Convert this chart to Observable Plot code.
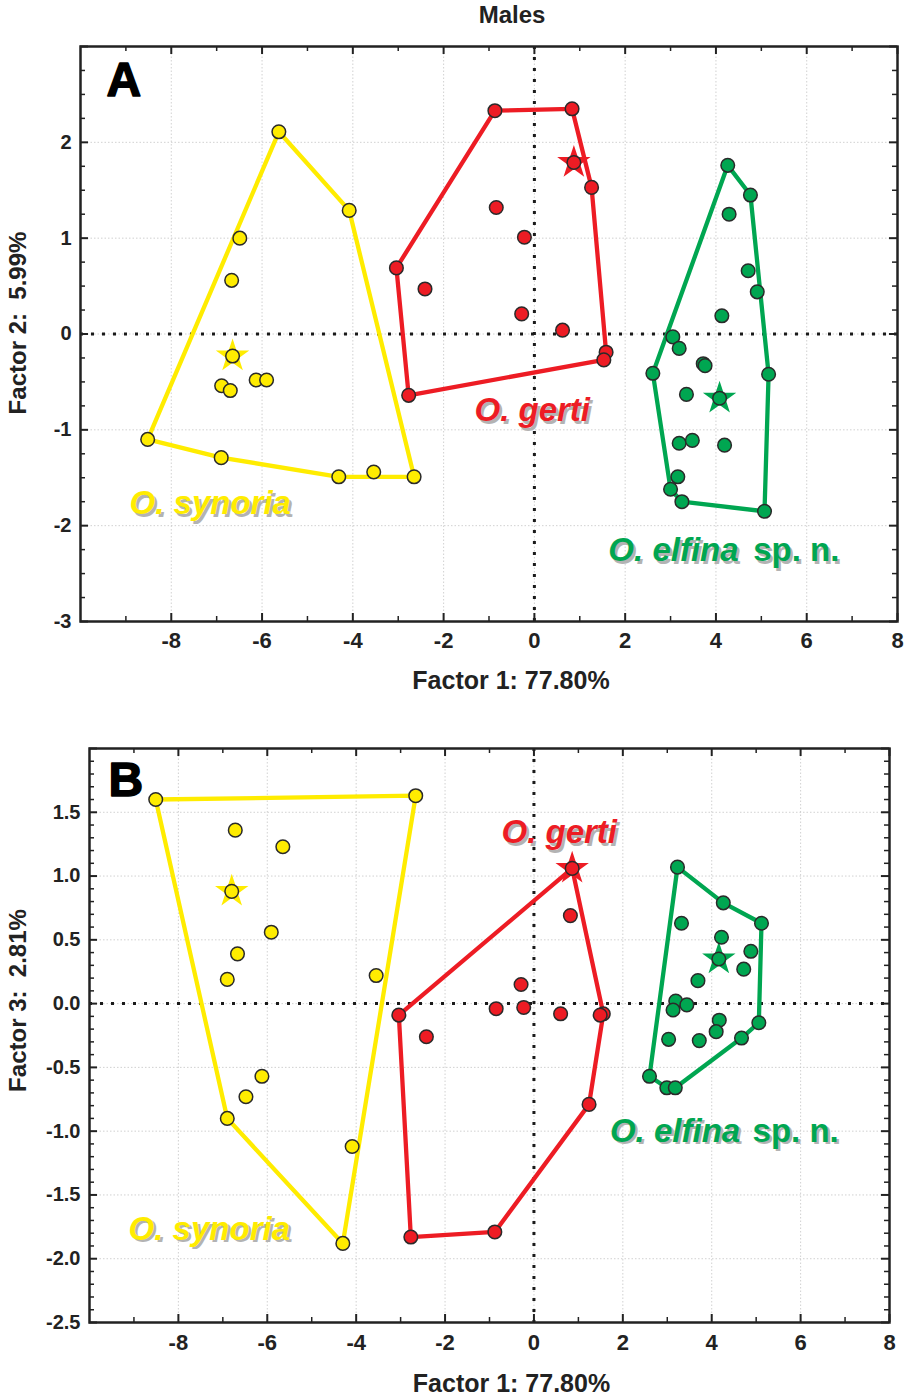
<!DOCTYPE html>
<html><head><meta charset="utf-8">
<script src="https://cdn.jsdelivr.net/npm/d3@7"></script>
<script src="https://cdn.jsdelivr.net/npm/@observablehq/plot@0.6"></script>
<style>
body{margin:0;background:#fff;}
#title{position:relative;width:905px;height:30px;}
#title span{position:absolute;left:512px;top:1px;transform:translateX(-50%);font:bold 24px 'Liberation Sans',Arial,sans-serif;color:#222;}
svg{display:block}
</style></head><body>
<div id="title"><span>Males</span></div>
<div id="a"></div><div id="b"></div>
<script>
// ---------- Data: Panel A (Factor 1 vs Factor 2) ----------
const synoriaA_x = [-5.63,-4.08,-6.49,-6.67,-6.65,-6.89,-6.70,-6.13,-5.90,-8.52,-6.90,-4.31,-3.54,-2.65];
const synoriaA_y = [ 2.11, 1.29, 1.00, 0.56,-0.23,-0.54,-0.59,-0.48,-0.48,-1.10,-1.29,-1.49,-1.44,-1.49];
const synoriaA_hull = [9,0,1,13,11,10,9];
const synoriaA_star = 4;

const gertiA_x = [-0.87,0.83,0.87,1.26,-0.84,-0.22,-3.04,-2.41,-0.28,0.62,1.58,1.53,-2.77];
const gertiA_y = [ 2.33,2.35,1.79,1.53, 1.32, 1.01, 0.69, 0.47, 0.21,0.04,-0.19,-0.27,-0.64];
const gertiA_hull = [6,0,1,3,10,11,12,6];
const gertiA_star = 2;

const elfinaA_x = [4.26,4.76,4.29,4.71,4.91,4.13,3.05,3.19,3.72,3.76,2.61,5.16,3.35,4.08,3.19,3.48,4.19,3.16,3.00,3.25,5.07];
const elfinaA_y = [1.76,1.45,1.25,0.66,0.44,0.19,-0.03,-0.15,-0.31,-0.33,-0.41,-0.42,-0.63,-0.67,-1.14,-1.11,-1.16,-1.49,-1.62,-1.75,-1.85];
const elfinaA_hull = [10,0,1,11,20,19,18,10];
const elfinaA_star = 13;

// ---------- Data: Panel B (Factor 1 vs Factor 3) ----------
const synoriaB_x = [-8.51,-2.66,-6.72,-5.65,-6.80,-5.91,-6.67,-6.90,-3.55,-6.12,-6.48,-6.90,-4.09,-4.30];
const synoriaB_y = [ 1.60, 1.63, 1.36, 1.23, 0.88, 0.56, 0.39, 0.19, 0.22,-0.57,-0.73,-0.90,-1.12,-1.88];
const synoriaB_hull = [0,1,13,11,0];
const synoriaB_star = 4;

const gertiB_x = [0.86,0.82,-0.29,-0.85,-0.23,0.60,1.56,1.49,-3.04,-2.42,1.24,-0.88,-2.77];
const gertiB_y = [1.06,0.69, 0.15,-0.04,-0.03,-0.08,-0.08,-0.09,-0.09,-0.26,-0.79,-1.79,-1.83];
const gertiB_hull = [8,0,6,10,11,12,8];
const gertiB_star = 0;

const elfinaB_x = [3.23,4.26,5.12,3.32,4.22,4.16,4.88,4.72,3.69,3.19,3.44,3.13,4.17,4.10,5.06,3.03,3.72,4.67,2.60,2.99,3.18];
const elfinaB_y = [1.07,0.79,0.63,0.63,0.52,0.35,0.41,0.27,0.18,0.02,-0.01,-0.05,-0.13,-0.22,-0.15,-0.28,-0.29,-0.27,-0.57,-0.66,-0.66];
const elfinaB_hull = [18,0,1,2,14,17,20,19,18];
const elfinaB_star = 5;

// ---------- Ticks / labels ----------
const species = ["synoria","gerti","elfina"];
const speciesColors = ["#ffec00","#ed1c24","#00a651"];
const xMajor = [-8,-6,-4,-2,0,2,4,6,8];
const xMinor = [-9,-7,-5,-3,-1,1,3,5,7];
const yMajorA = [-3,-2,-1,0,1,2,3];
const yLabelsA = [-3,-2,-1,0,1,2];
const yMajorB = [-2.5,-2.0,-1.5,-1.0,-0.5,0.0,0.5,1.0,1.5,2.0];
const yLabelsB = [-2.5,-2.0,-1.5,-1.0,-0.5,0.0,0.5,1.0,1.5];
const xTitle = "Factor 1: 77.80%";
const yTitleA = "Factor 2:\u00a0\u00a05.99%";
const yTitleB = "Factor 3:\u00a0\u00a02.81%";

const sans = "'Liberation Sans',Arial,sans-serif";

function range(a,b,s){const r=[];for(let v=a;v<=b+1e-9;v+=s)r.push(+v.toFixed(3));return r;}

function panel(o){
  const pts=[], stars=[], hulls=[];
  for(const g of o.groups){
    g.xs.forEach((x,i)=>pts.push({sp:g.sp,x,y:g.ys[i]}));
    stars.push({sp:g.sp,x:g.xs[g.star],y:g.ys[g.star]});
    g.hull.forEach(i=>hulls.push({sp:g.sp,x:g.xs[i],y:g.ys[i]}));
  }
  const H = o.height - o.mt - o.mb, W = 905 - o.ml - o.mr;
  const tk = "#222";
  return Plot.plot({
    width:905, height:o.height,
    marginLeft:o.ml, marginRight:o.mr, marginTop:o.mt, marginBottom:o.mb,
    style:{fontFamily:sans, background:"#fff", overflow:"visible", color:"#222"},
    x:{domain:o.xDomain},
    y:{domain:o.yDomain},
    color:{domain:species, range:speciesColors},
    marks:[
      Plot.gridX(xMajor,{stroke:"#bdbdbd",strokeOpacity:0.7,strokeDasharray:"1.5,2"}),
      Plot.gridY(o.yMajor,{stroke:"#bdbdbd",strokeOpacity:0.7,strokeDasharray:"1.5,2"}),
      Plot.ruleX([0],{stroke:"#1a1a1a",strokeWidth:3,strokeDasharray:"3,8"}),
      Plot.ruleY([0],{stroke:"#1a1a1a",strokeWidth:3,strokeDasharray:"3,8"}),
      Plot.line(hulls,{x:"x",y:"y",z:"sp",stroke:"sp",strokeWidth:4.3,strokeLinejoin:"round"}),
      Plot.dot(stars,{x:"x",y:"y",fill:"sp",symbol:"star",r:10.5}),
      Plot.dot(pts,{x:"x",y:"y",fill:"sp",r:6.8,stroke:"#2a2a2a",strokeWidth:1.5}),
      // species labels (shadow + colour)
      Plot.text(o.labels,{x:"x",y:"y",text:"t",fill:"#b3b3b3",dx:2.5,dy:2.5,fontSize:33,fontWeight:"bold",fontStyle:"italic",textAnchor:"start",lineAnchor:"middle"}),
      Plot.text(o.labels,{x:"x",y:"y",text:"t",fill:"sp",fontSize:33,fontWeight:"bold",fontStyle:"italic",textAnchor:"start",lineAnchor:"middle"}),
      Plot.text(o.suffix,{x:"x",y:"y",text:"t",fill:"#b3b3b3",dx:2.5,dy:2.5,fontSize:33,fontWeight:"bold",textAnchor:"start",lineAnchor:"middle"}),
      Plot.text(o.suffix,{x:"x",y:"y",text:"t",fill:"sp",fontSize:33,fontWeight:"bold",textAnchor:"start",lineAnchor:"middle"}),
      // panel letter
      Plot.text([o.letter],{text:d=>d,frameAnchor:"top-left",dx:o.letterDx,dy:o.letterDy,fontSize:48,fontWeight:"bold",fill:"#000",stroke:"#000",strokeWidth:1.5,textAnchor:"start",lineAnchor:"middle"}),
      // inward ticks (pixel insets)
      Plot.ruleX(xMinor,{x:d=>d,insetTop:H-5,stroke:tk,strokeWidth:1.5}),
      Plot.ruleX(xMinor,{x:d=>d,insetBottom:H-5,stroke:tk,strokeWidth:1.5}),
      Plot.ruleX(xMajor,{x:d=>d,insetTop:H-8,stroke:tk,strokeWidth:2}),
      Plot.ruleX(xMajor,{x:d=>d,insetBottom:H-8,stroke:tk,strokeWidth:2}),
      Plot.ruleY(o.yMinor,{y:d=>d,insetRight:W-5,stroke:tk,strokeWidth:1.5}),
      Plot.ruleY(o.yMinor,{y:d=>d,insetLeft:W-5,stroke:tk,strokeWidth:1.5}),
      Plot.ruleY(o.yMajor,{y:d=>d,insetRight:W-8,stroke:tk,strokeWidth:2}),
      Plot.ruleY(o.yMajor,{y:d=>d,insetLeft:W-8,stroke:tk,strokeWidth:2}),
      Plot.frame({stroke:"#222",strokeWidth:2.5}),
      // tick labels
      Plot.axisX(xMajor,{anchor:"bottom",tickSize:0,tickPadding:o.xPad,label:null,fontSize:22,fontWeight:"bold",fill:"#222",tickFormat:d=>String(d)}),
      Plot.axisY(o.yLabels,{anchor:"left",tickSize:0,tickPadding:9,label:null,fontSize:20,fontWeight:"bold",fill:"#222",tickFormat:o.yFmt}),
      // axis titles
      Plot.text([xTitle],{text:d=>d,frameAnchor:"bottom",dx:22,dy:o.xtDy,fontSize:25,fontWeight:"bold",fill:"#222",lineAnchor:"middle"}),
      Plot.text([o.yTitle],{text:d=>d,frameAnchor:"left",rotate:-90,dx:o.ytDx,dy:o.ytDy,fontSize:24,fontWeight:"bold",fill:"#222",lineAnchor:"middle",textAnchor:"middle"})
    ]
  });
}

const panelA = panel({
  height:670, ml:80, mr:8, mt:16, mb:79,
  xDomain:[-10,8], yDomain:[-3,3],
  yMajor:yMajorA, yLabels:yLabelsA, yMinor:range(-3,3,0.25).filter(v=>!Number.isInteger(v)), yFmt:d=>String(d),
  groups:[
    {sp:"synoria",xs:synoriaA_x,ys:synoriaA_y,hull:synoriaA_hull,star:synoriaA_star},
    {sp:"gerti",xs:gertiA_x,ys:gertiA_y,hull:gertiA_hull,star:gertiA_star},
    {sp:"elfina",xs:elfinaA_x,ys:elfinaA_y,hull:elfinaA_hull,star:elfinaA_star}
  ],
  labels:[{t:"O. synoria",x:-8.92,y:-1.77,sp:"synoria"},{t:"O. gerti",x:-1.32,y:-0.80,sp:"gerti"},{t:"O. elfina",x:1.63,y:-2.26,sp:"elfina"}],
  suffix:[{t:"sp. n.",x:4.82,y:-2.26,sp:"elfina"}],
  letter:"A", letterDx:26, letterDy:34,
  xPad:11, xtDy:59, yTitle:yTitleA, ytDx:-62, ytDy:-11
});
document.getElementById("a").appendChild(panelA);

const panelB = panel({
  height:694, ml:89, mr:16, mt:48, mb:72,
  xDomain:[-10,8], yDomain:[-2.5,2.0],
  yMajor:yMajorB, yLabels:yLabelsB, yMinor:range(-2.5,2.0,0.1).filter(v=>Math.abs(v*2-Math.round(v*2))>1e-6), yFmt:d=>d.toFixed(1),
  groups:[
    {sp:"synoria",xs:synoriaB_x,ys:synoriaB_y,hull:synoriaB_hull,star:synoriaB_star},
    {sp:"gerti",xs:gertiB_x,ys:gertiB_y,hull:gertiB_hull,star:gertiB_star},
    {sp:"elfina",xs:elfinaB_x,ys:elfinaB_y,hull:elfinaB_hull,star:elfinaB_star}
  ],
  labels:[{t:"O. synoria",x:-9.12,y:-1.77,sp:"synoria"},{t:"O. gerti",x:-0.73,y:1.34,sp:"gerti"},{t:"O. elfina",x:1.71,y:-1.00,sp:"elfina"}],
  suffix:[{t:"sp. n.",x:4.92,y:-1.00,sp:"elfina"}],
  letter:"B", letterDx:19, letterDy:32,
  xPad:12, xtDy:61, yTitle:yTitleB, ytDx:-71, ytDy:-35
});
document.getElementById("b").appendChild(panelB);
</script></body></html>
